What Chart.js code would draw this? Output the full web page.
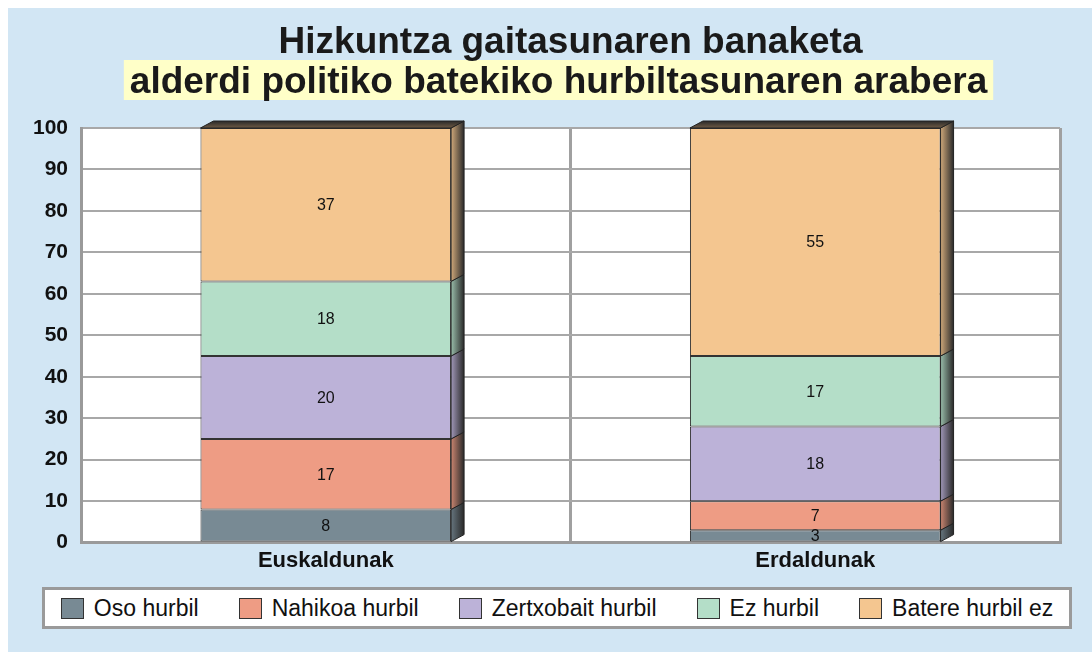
<!DOCTYPE html>
<html>
<head>
<meta charset="utf-8">
<script src="https://cdn.jsdelivr.net/npm/chart.js@4.4.0/dist/chart.umd.min.js"></script>
<style>
  html, body { margin: 0; padding: 0; background: #ffffff; }
  #wrap { width: 1092px; height: 652px; position: relative; }
  #legend {
    position: absolute; left: 42px; top: 587px; width: 1030px; height: 42px;
    box-sizing: border-box; background: #ffffff; border: 3px solid #9a9a9a;
    display: flex; align-items: center; justify-content: center; gap: 40px;
    font-family: 'Liberation Sans', Arial, sans-serif; font-size: 23px; color: #111;
  }
  #legend .item { display: flex; align-items: center; white-space: nowrap; }
  #legend .swatch { width: 21px; height: 19px; border: 1px solid #333; margin-right: 10px; }
</style>
</head>
<body>
<div id="wrap"><canvas id="chart"></canvas><div id="legend"></div></div>
<script>
// data
const titleLine1 = "Hizkuntza gaitasunaren banaketa";
const titleLine2 = "alderdi politiko batekiko hurbiltasunaren arabera";
const categories = ["Euskaldunak", "Erdaldunak"];
const seriesNames = ["Oso hurbil", "Nahikoa hurbil", "Zertxobait hurbil", "Ez hurbil", "Batere hurbil ez"];
const osoHurbil = [8, 3];
const nahikoaHurbil = [17, 7];
const zertxobaitHurbil = [20, 18];
const ezHurbil = [18, 17];
const batereHurbilEz = [37, 55];
const yMin = 0;
const yMax = 100;
const yStep = 10;

const seriesColors = ["#788a94", "#ee9c84", "#bcb2d8", "#b4dec8", "#f4c690"];
const seriesValues = [osoHurbil, nahikoaHurbil, zertxobaitHurbil, ezHurbil, batereHurbilEz];

// darken a hex colour by factor f
function shade(hex, f) {
    const n = parseInt(hex.slice(1), 16);
    const r = Math.round(((n >> 16) & 255) * f);
    const g = Math.round(((n >> 8) & 255) * f);
    const b = Math.round((n & 255) * f);
    return `rgb(${r}, ${g}, ${b})`;
}

// background panel, white plot area, title with highlight
const backdropPlugin = {
    id: "backdrop",
    beforeDraw(chart) {
        const ctx = chart.ctx;
        const area = chart.chartArea;
        ctx.save();
        ctx.fillStyle = "#ffffff";
        ctx.fillRect(0, 0, chart.width, chart.height);
        ctx.fillStyle = "#d2e6f4";
        ctx.fillRect(8, 8, chart.width - 8, chart.height - 8);
        ctx.fillStyle = "#ffffff";
        ctx.fillRect(area.left, area.top, area.right - area.left, area.bottom - area.top);

        const cx = (area.left + area.right) / 2;
        ctx.font = "bold 37px 'Liberation Sans', Arial, sans-serif";
        ctx.textAlign = "center";
        ctx.textBaseline = "middle";
        const w2 = ctx.measureText(titleLine2).width;
        ctx.fillStyle = "#ffffc8";
        ctx.fillRect(cx - 12 - w2 / 2 - 6, 60, w2 + 12, 40);
        ctx.fillStyle = "#1a1a1a";
        ctx.fillText(titleLine1, cx, 43);
        ctx.fillText(titleLine2, cx - 12, 83);
        ctx.restore();
    }
};

// side and top faces to give the bars depth, plus value labels
const depthPlugin = {
    id: "depth",
    afterDatasetsDraw(chart) {
        const ctx = chart.ctx;
        const dx = 13, dy = 7;
        ctx.save();
        chart.data.datasets.forEach((ds, di) => {
            const meta = chart.getDatasetMeta(di);
            meta.data.forEach((bar, i) => {
                const right = bar.x + bar.width / 2;
                const left = bar.x - bar.width / 2;
                const top = Math.min(bar.y, bar.base);
                const bottom = Math.max(bar.y, bar.base);
                const g = ctx.createLinearGradient(right, 0, right + dx, 0);
                g.addColorStop(0, shade(seriesColors[di], 0.85));
                g.addColorStop(1, "#2a2a2a");
                ctx.beginPath();
                ctx.moveTo(right, top);
                ctx.lineTo(right + dx, top - dy);
                ctx.lineTo(right + dx, bottom - dy);
                ctx.lineTo(right, bottom);
                ctx.closePath();
                ctx.fillStyle = g;
                ctx.fill();
                ctx.strokeStyle = "#222";
                ctx.lineWidth = 1;
                ctx.stroke();
                if (di === chart.data.datasets.length - 1) {
                    const gt = ctx.createLinearGradient(0, top - dy, 0, top);
                    gt.addColorStop(0, "#2a2a2a");
                    gt.addColorStop(1, "#6e5a44");
                    ctx.beginPath();
                    ctx.moveTo(left, top);
                    ctx.lineTo(left + dx, top - dy);
                    ctx.lineTo(right + dx, top - dy);
                    ctx.lineTo(right, top);
                    ctx.closePath();
                    ctx.fillStyle = gt;
                    ctx.fill();
                    ctx.stroke();
                }
            });
        });
        ctx.font = "16px 'Liberation Sans', Arial, sans-serif";
        ctx.fillStyle = "#111";
        ctx.textAlign = "center";
        ctx.textBaseline = "middle";
        chart.data.datasets.forEach((ds, di) => {
            chart.getDatasetMeta(di).data.forEach((bar, i) => {
                const yc = (bar.y + bar.base) / 2 + 1;
                ctx.fillText(String(ds.data[i]), bar.x, yc);
            });
        });
        ctx.restore();
    }
};

const datasets = seriesNames.map((name, i) => ({
    label: name,
    data: seriesValues[i],
    backgroundColor: seriesColors[i],
    borderColor: "#333333",
    borderWidth: 1,
    borderSkipped: false,
    barPercentage: 0.512,
    categoryPercentage: 1.0
}));

const chart = new Chart(document.getElementById("chart"), {
    type: "bar",
    data: { labels: categories, datasets: datasets },
    options: {
        responsive: true,
        maintainAspectRatio: false,
        animation: false,
        layout: { padding: { top: 128, left: 20, right: 32, bottom: 73 } },
        scales: {
            x: {
                stacked: true,
                grid: { color: "#a0a0a0", lineWidth: 3, drawTicks: false, offset: true },
                border: { color: "#9a9a9a", width: 3 },
                ticks: {
                    padding: 5,
                    color: "#111",
                    font: { family: "'Liberation Sans', Arial, sans-serif", size: 22, weight: "bold" }
                }
            },
            y: {
                stacked: true,
                min: yMin,
                max: yMax,
                grid: { color: "#a8a8a8", lineWidth: 2, drawTicks: false },
                border: { color: "#9a9a9a", width: 3 },
                ticks: {
                    stepSize: yStep,
                    padding: 13,
                    color: "#111",
                    font: { family: "'Liberation Sans', Arial, sans-serif", size: 21, weight: "bold" }
                }
            }
        },
        plugins: {
            title: { display: false },
            tooltip: { enabled: false },
            legend: { display: false }
        }
    },
    plugins: [backdropPlugin, depthPlugin]
});

// legend built from the same series names and colours
const legendBox = document.getElementById("legend");
chart.data.datasets.forEach(ds => {
    const item = document.createElement("div");
    item.className = "item";
    const swatch = document.createElement("span");
    swatch.className = "swatch";
    swatch.style.background = ds.backgroundColor;
    const text = document.createElement("span");
    text.textContent = ds.label;
    item.appendChild(swatch);
    item.appendChild(text);
    legendBox.appendChild(item);
});
</script>
</body>
</html>
